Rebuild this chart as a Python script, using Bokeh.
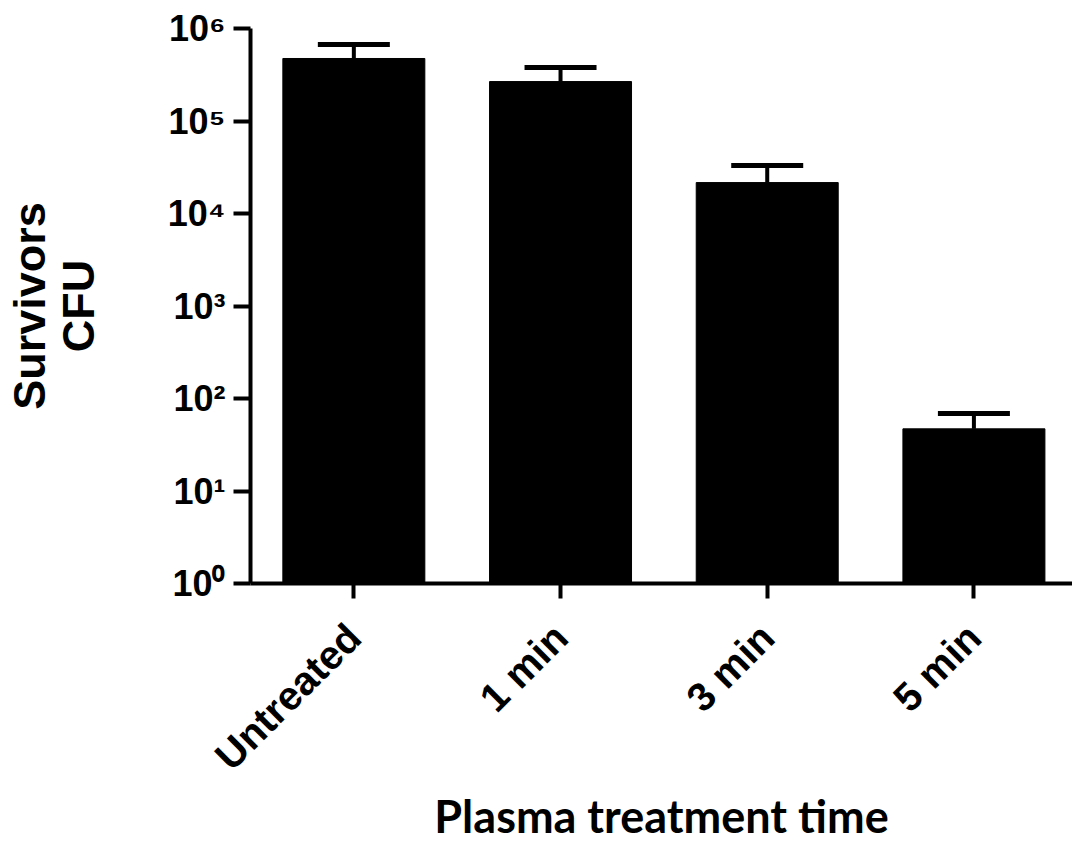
import math
from bokeh.plotting import figure
from bokeh.models import Range1d, FixedTicker, Whisker, TeeHead, ColumnDataSource
from bokeh.embed import file_html
from bokeh.resources import INLINE

categories = ["Untreated", "1 min", "3 min", "5 min"]
survivors = [4.74e5, 2.67e5, 2.16e4, 47]
sem = [1.96e5, 1.12e5, 1.14e4, 22]
y_ticks = [1, 10, 100, 1000, 1e4, 1e5, 1e6]
y_tick_labels = ["10⁰", "10¹", "10²", "10³", "10⁴", "10⁵", "10⁶"]

xs = list(range(len(categories)))
src = ColumnDataSource(dict(
    x=xs,
    top=survivors,
    upper=[v + e for v, e in zip(survivors, sem)],
))

p = figure(width=1072, height=848, output_backend="svg", toolbar_location=None,
           y_axis_type="log", x_range=Range1d(-0.5, 3.477), y_range=Range1d(1, 1e6),
           min_border_left=250, min_border_right=0, min_border_top=28, min_border_bottom=265)
p.outline_line_color = None
p.grid.visible = False
p.background_fill_color = "white"

p.vbar(x="x", top="top", bottom=1, width=0.687, source=src,
       fill_color="black", line_color="black")
p.add_layout(Whisker(source=src, base="x", lower="top", upper="upper",
                     line_width=4, line_color="black",
                     lower_head=None,
                     upper_head=TeeHead(size=72, line_width=5, line_color="black")))

font = "Liberation Sans"
# y axis
ya = p.yaxis[0]
ya.ticker = FixedTicker(ticks=y_ticks, minor_ticks=[])
ya.major_label_overrides = {t: l for t, l in zip(y_ticks, y_tick_labels)}
ya.axis_line_width = 4
ya.major_tick_line_width = 4
ya.major_tick_out = 17
ya.major_tick_in = 0
ya.minor_tick_line_color = None
ya.major_label_text_font = font
ya.major_label_text_font_style = "bold"
ya.major_label_text_font_size = "36px"
ya.major_label_text_color = "black"
ya.major_label_standoff = 8
ya.axis_label = "Survivors\nCFU"
ya.axis_label_text_font = font
ya.axis_label_text_font_style = "bold"
ya.axis_label_text_font_size = "45px"
ya.axis_label_text_line_height = 0.95
ya.axis_label_text_color = "black"
ya.axis_label_standoff = 61

# x axis
xa = p.xaxis[0]
xa.ticker = FixedTicker(ticks=xs, minor_ticks=[])
xa.major_label_overrides = {i: c for i, c in zip(xs, categories)}
xa.major_label_orientation = math.pi / 4
xa.axis_line_width = 4
xa.major_tick_line_width = 4
xa.major_tick_out = 15
xa.major_tick_in = 0
xa.minor_tick_line_color = None
xa.major_label_text_font = font
xa.major_label_text_font_style = "bold"
xa.major_label_text_font_size = "40px"
xa.major_label_text_color = "black"
xa.major_label_standoff = 32
xa.axis_label = "Plasma treatment time"
xa.axis_label_text_font = "Lato"
xa.axis_label_text_font_style = "bold"
xa.axis_label_text_font_size = "45px"
xa.axis_label_text_color = "black"
xa.axis_label_standoff = -8

open("out.html", "w").write(file_html(p, INLINE))
